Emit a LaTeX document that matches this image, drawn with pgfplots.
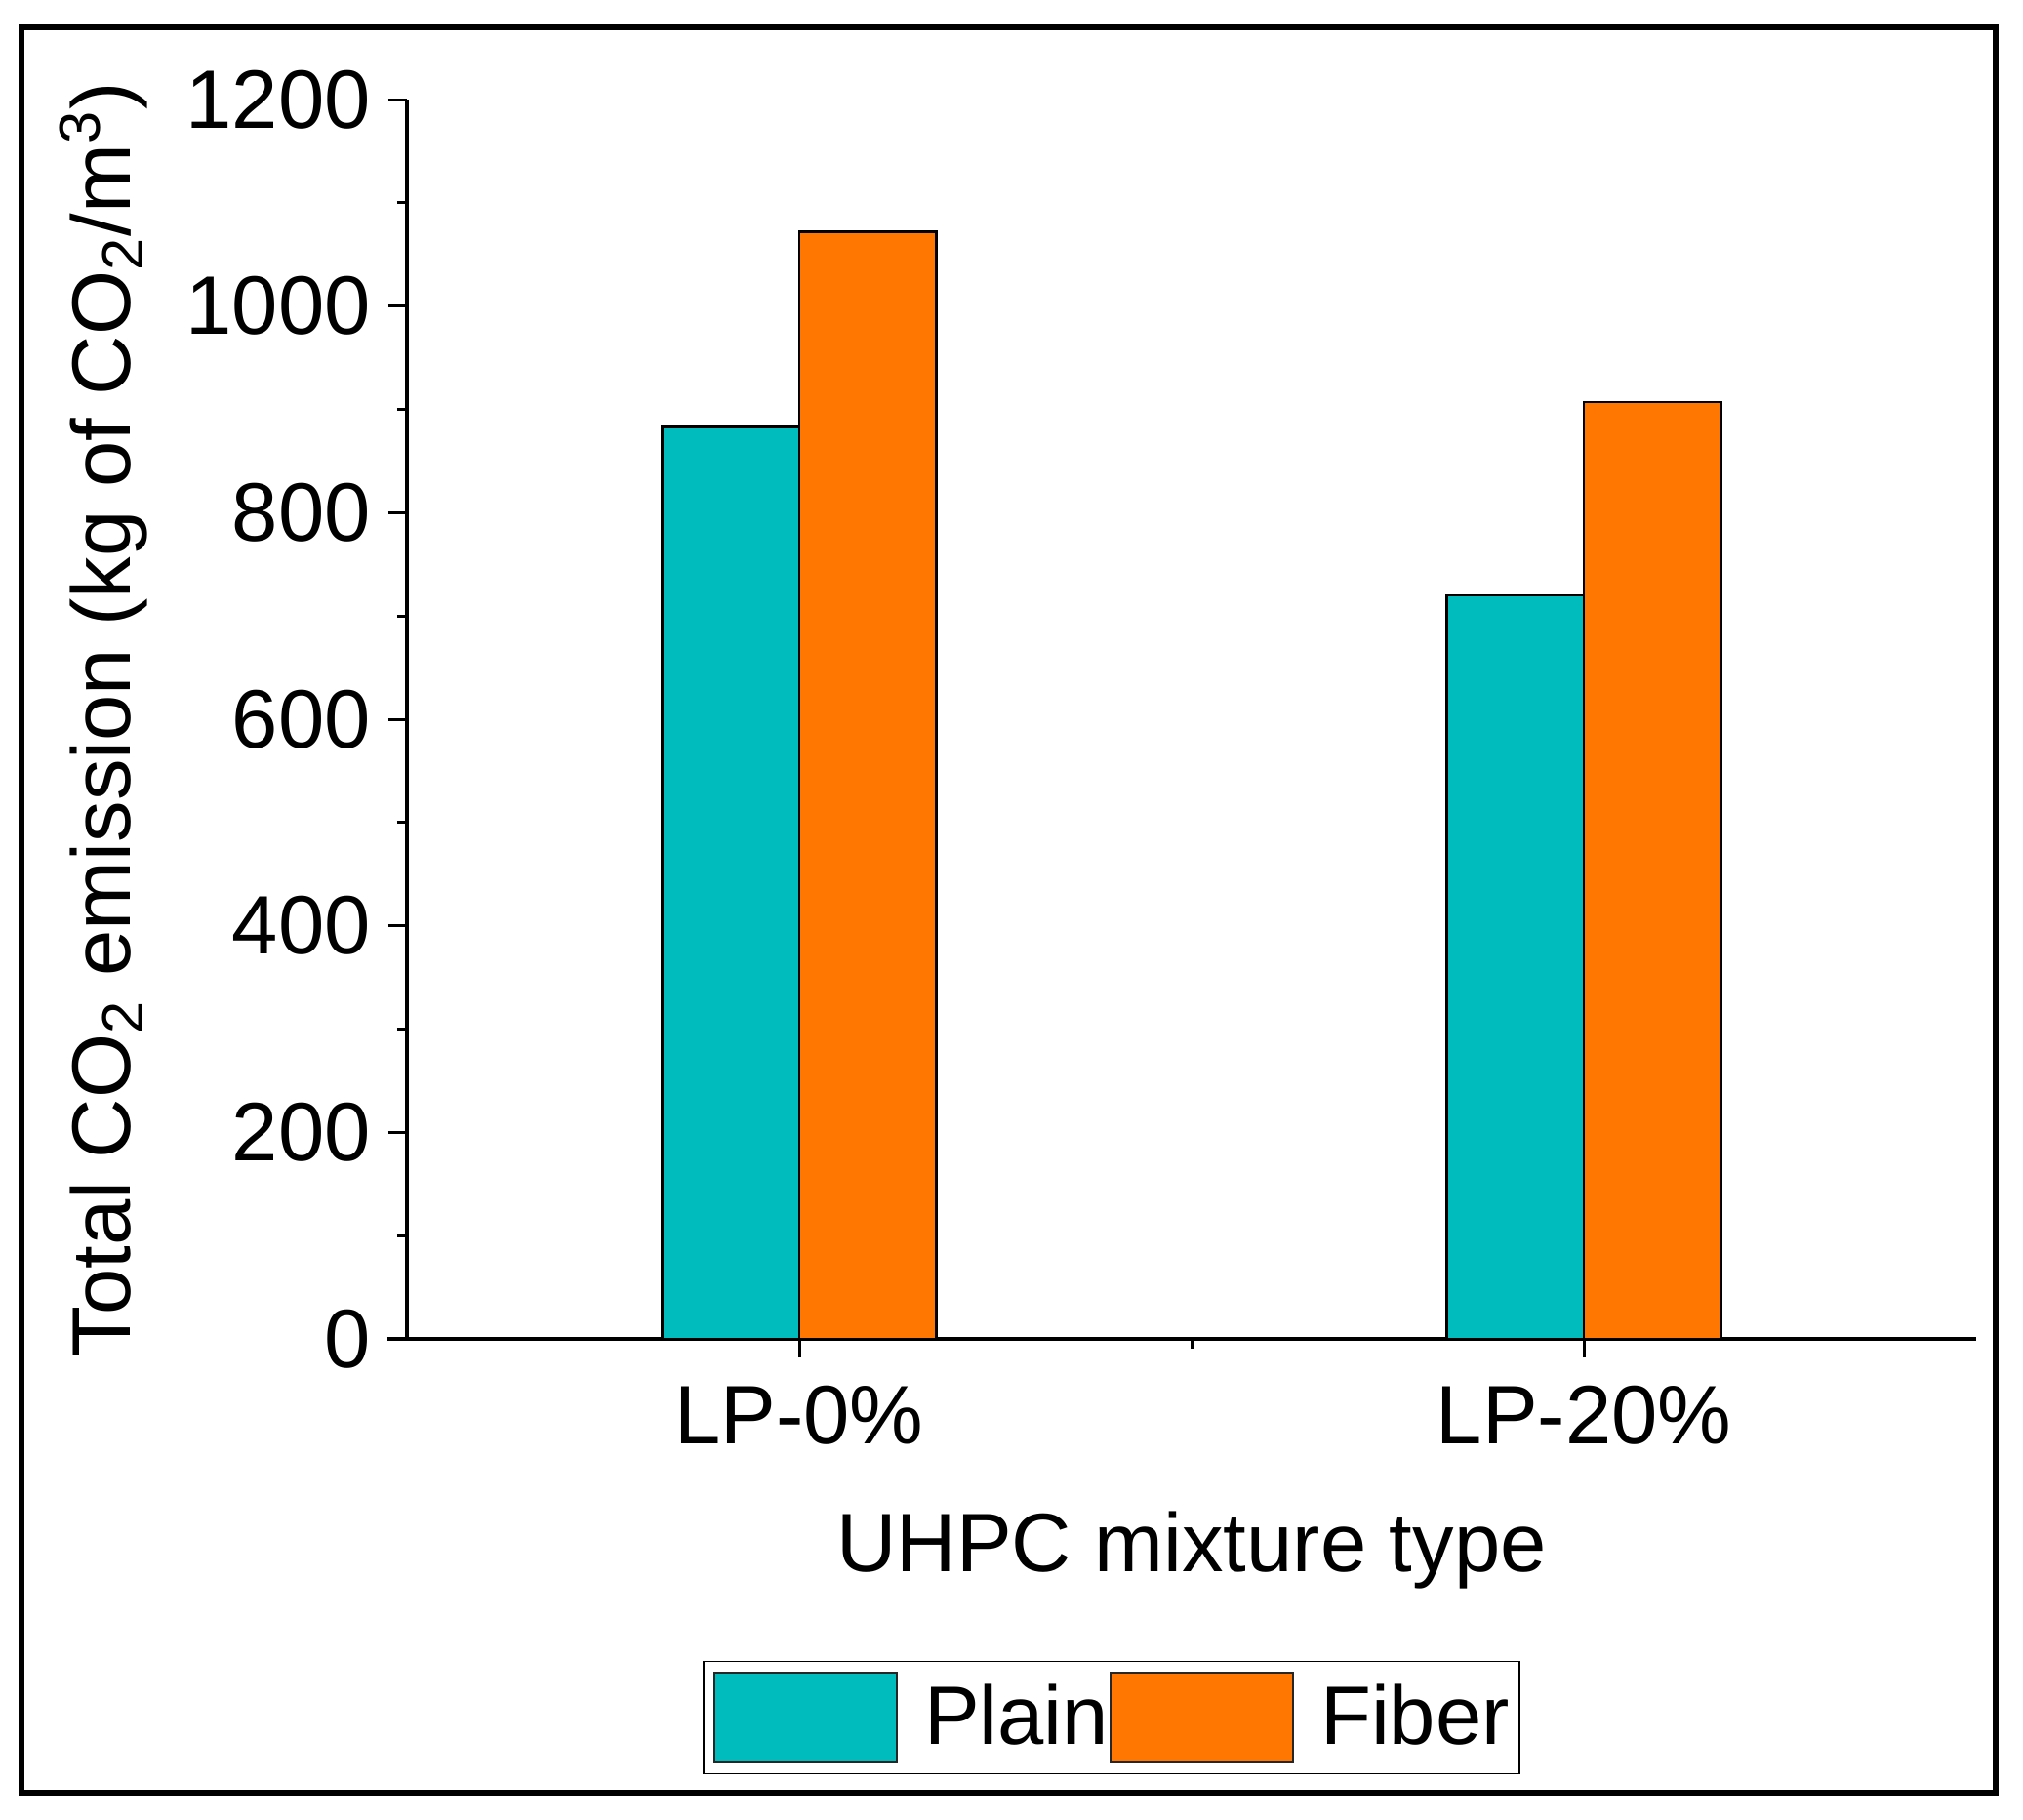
\documentclass[border=0pt]{standalone}
\usepackage{pgfplots}
\pgfplotsset{compat=1.18}
\usepackage{fontspec}
\setmainfont{Liberation Sans}
\definecolor{plaincol}{RGB}{0,188,188}
\definecolor{fibercol}{RGB}{255,119,0}
\begin{document}
\fontsize{17pt}{20pt}\selectfont
\begin{tikzpicture}
\useasboundingbox (0,0) rectangle (414.6pt,372.8pt);
\fill[white] (0,0) rectangle (414.6pt,372.8pt);
\draw[line width=1.3pt] (4.4pt,5.4pt) rectangle (409pt,367.2pt);
\begin{axis}[
  at={(83.4pt,98.4pt)}, anchor=south west,
  scale only axis, width=321.6pt, height=254pt,
  xmin=-0.5, xmax=1.5, ymin=0, ymax=1200,
  axis lines*=left,
  axis line style={line width=0.65pt},
  x axis line style={shorten <=-4pt},
  tick align=outside,
  major tick length=3.8pt, minor tick length=2pt,
  tick style={black, line width=0.6pt},
  xtick={0,1}, xticklabels={LP-0\%, LP-20\%},
  minor xtick={0.5},
  ytick={0,200,...,1200},
  minor y tick num=1,
  yticklabel style={xshift=2.2pt},
  /pgf/number format/assume math mode=true,
  /pgf/number format/1000 sep={},
  xlabel={UHPC mixture type},
  xlabel style={at={(axis description cs:0.5,-0.1874)}, anchor=base},
  ylabel={Total CO\textsubscript{2} emission (kg of CO\textsubscript{2}/m\textsuperscript{3})},
  ylabel style={at={(axis description cs:-0.176,0.5)}, anchor=base},
  legend columns=2,
  legend style={at={(0.449,-0.3055)}, anchor=center, draw=black, line width=0.3pt,
    inner xsep=2pt, inner ysep=2.1pt,
    nodes={inner sep=0pt},
    /tikz/every odd column/.append style={column sep=5.4pt},
    /tikz/every even column/.append style={column sep=0.2pt}},
]
\addplot[ybar, bar width=0.1746, bar shift=-0.0873, fill=plaincol, draw=black, line width=0.55pt,
  legend image code/.code={\draw[fill=plaincol, draw=black!85, line width=0.4pt] (0pt,-8.55pt) rectangle (37.4pt,9.85pt);}]
  coordinates {(0,883) (1,720)};
\addlegendentry{Plain}
\addplot[ybar, bar width=0.1746, bar shift=0.0873, fill=fibercol, draw=black, line width=0.55pt,
  legend image code/.code={\draw[fill=fibercol, draw=black!85, line width=0.4pt] (0pt,-8.55pt) rectangle (37.4pt,9.85pt);}]
  coordinates {(0,1072) (1,907)};
\addlegendentry{Fiber}
\end{axis}
\end{tikzpicture}
\end{document}
